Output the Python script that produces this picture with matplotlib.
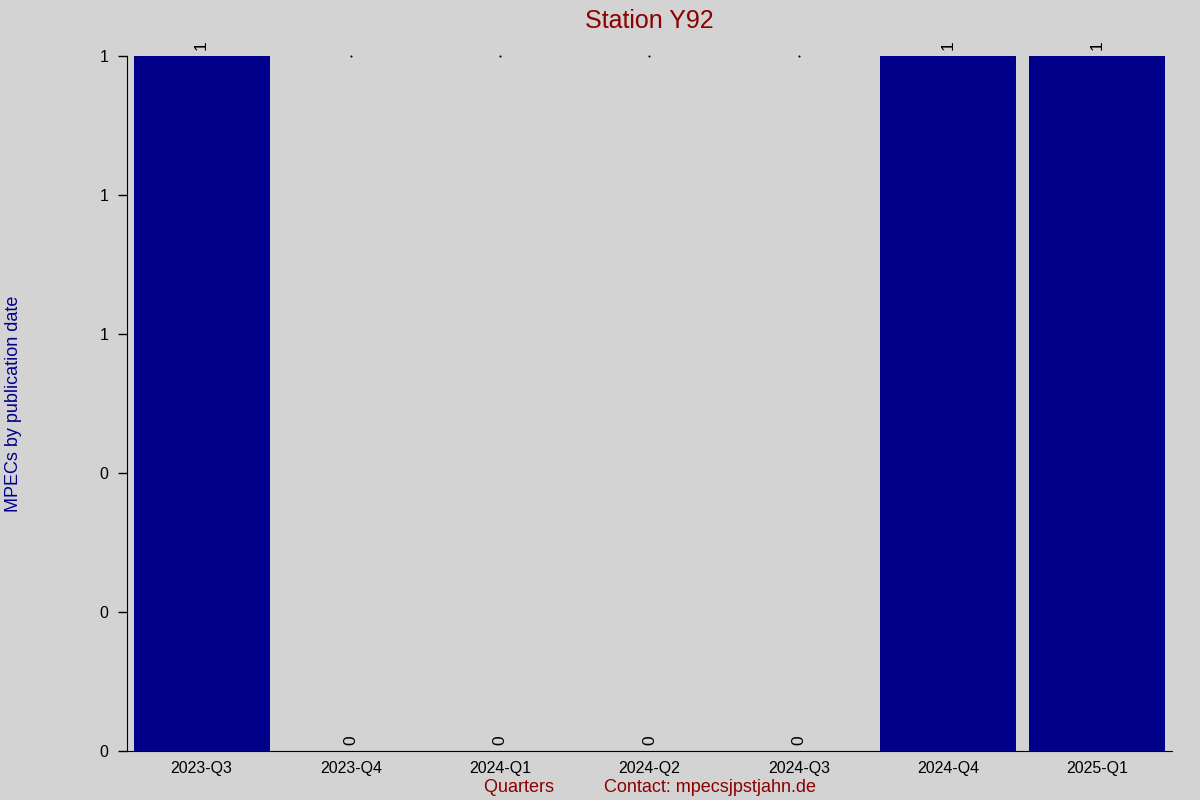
import matplotlib
matplotlib.use("Agg")
import matplotlib.pyplot as plt

quarters = ["2023-Q3", "2023-Q4", "2024-Q1", "2024-Q2", "2024-Q3", "2024-Q4", "2025-Q1"]
counts = [1, 0, 0, 0, 0, 1, 1]
yticks = [0, 0.2, 0.4, 0.6, 0.8, 1.0]

plt.rcParams["font.family"] = ["Liberation Sans", "DejaVu Sans"]

bg = "#d3d3d3"
fig = plt.figure(figsize=(12, 8), dpi=100, facecolor=bg)
ax = fig.add_axes([0.1058, 0.06125, 0.8709, 0.86875], facecolor=bg)

x = list(range(len(quarters)))
ax.bar(x, counts, width=0.91, color="#00008b")

for xi, v in zip(x, counts):
    ax.annotate(str(v), (xi, v), xytext=(0, 4), textcoords="offset points",
                rotation=90, ha="center", va="bottom", fontsize=12.5, color="black")
    if v == 0:
        ax.plot([xi], [max(counts)], marker="s", markersize=0.5, color="black", clip_on=False)

ax.set_xlim(-0.5, len(quarters) - 0.5)
ax.set_ylim(0, max(counts))
ax.set_xticks(x)
ax.set_xticklabels(quarters, fontsize=11.5)
ax.set_yticks(yticks)
ax.set_yticklabels([f"{t:.0f}" for t in yticks], fontsize=11.5)
ax.tick_params(axis="x", length=0, pad=7)
ax.tick_params(axis="y", length=6.5, width=1, pad=7, direction="out")

for s in ["top", "right"]:
    ax.spines[s].set_visible(False)
ax.spines["left"].set_color("black")
ax.spines["bottom"].set_color("black")

ax.set_title("Station Y92", color="#8b0000", fontsize=18, pad=20)
ax.set_xlabel("Quarters          Contact: mpecsjpstjahn.de", color="#8b0000", fontsize=13, labelpad=2)
ax.set_ylabel("MPECs by publication date", color="#00008b", fontsize=13)
ax.yaxis.set_label_coords(-0.1, 0.5)

fig.savefig("out.png", dpi=100, facecolor=bg)
